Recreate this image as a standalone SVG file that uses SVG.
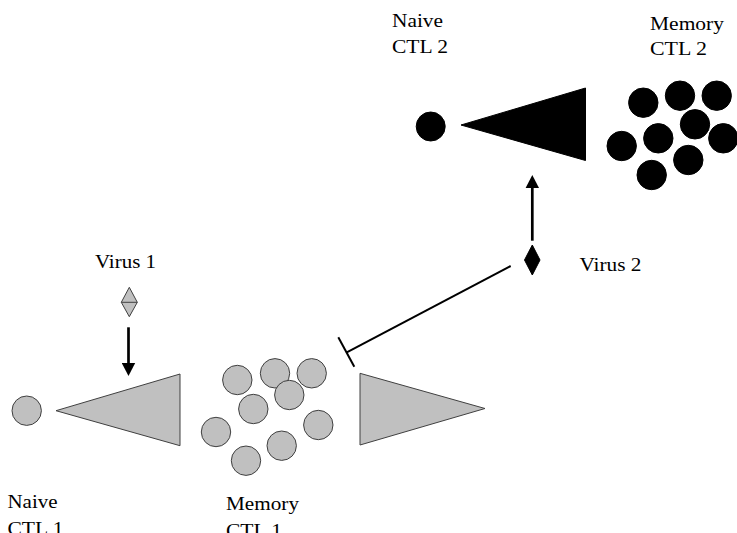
<svg xmlns="http://www.w3.org/2000/svg" width="737" height="533" viewBox="0 0 737 533">
<style>
text{font-family:"Liberation Serif","Times New Roman",serif;font-size:19px;fill:#000}
.g{fill:#c0c0c0;stroke:#404040;stroke-width:1}
.b{fill:#000;stroke:#000;stroke-width:1}
.ln{stroke:#000;stroke-width:2.7;fill:none}
</style>
<defs>
<marker id="ah" markerWidth="14" markerHeight="14" refX="1" refY="7" orient="auto" markerUnits="userSpaceOnUse"><path d="M0,0.3 L13,7 L0,13.7 z" fill="#000"/></marker>
</defs>
<rect width="737" height="533" fill="#fff"/>
<g id="naive-ctl2">
<circle class="b" cx="430.7" cy="126.5" r="14.5"/>
<text x="392" y="27" textLength="51" lengthAdjust="spacingAndGlyphs">Naive</text>
<text x="392" y="53" textLength="56" lengthAdjust="spacingAndGlyphs">CTL 2</text>
</g>
<g id="expansion-ctl2">
<polygon class="b" points="461,125 585.5,88 585.5,160.5"/>
</g>
<g id="memory-ctl2">
<circle class="b" cx="643.3" cy="102.7" r="14.7"/>
<circle class="b" cx="680" cy="95.7" r="14.7"/>
<circle class="b" cx="716.7" cy="95.7" r="14.7"/>
<circle class="b" cx="695" cy="124.3" r="14.7"/>
<circle class="b" cx="658.3" cy="138.3" r="14.7"/>
<circle class="b" cx="621.7" cy="146" r="14.7"/>
<circle class="b" cx="723.3" cy="138.3" r="14.7"/>
<circle class="b" cx="688.3" cy="160" r="14.7"/>
<circle class="b" cx="651.7" cy="175" r="14.7"/>
<text x="650" y="29.5" textLength="74" lengthAdjust="spacingAndGlyphs">Memory</text>
<text x="650" y="55" textLength="57" lengthAdjust="spacingAndGlyphs">CTL 2</text>
</g>
<g id="virus1">
<polygon class="g" points="129.3,287.3 137.3,302.3 129.3,316.7 121.3,302.3"/>
<line x1="121.3" y1="302.3" x2="137.3" y2="302.3" stroke="#404040" stroke-width="1"/>
<text x="95" y="268" textLength="61" lengthAdjust="spacingAndGlyphs">Virus 1</text>
</g>
<g id="virus2">
<polygon class="b" points="532.3,245 540,260 532.3,275 524.5,260"/>
<text x="579.5" y="271" textLength="62" lengthAdjust="spacingAndGlyphs">Virus 2</text>
</g>
<g id="naive-ctl1">
<circle class="g" cx="26.7" cy="410.7" r="14.7"/>
<text x="7.5" y="508" textLength="50" lengthAdjust="spacingAndGlyphs">Naive</text>
<text x="7.5" y="535" textLength="56" lengthAdjust="spacingAndGlyphs">CTL 1</text>
</g>
<g id="expansion-ctl1">
<polygon class="g" points="56,410.7 180,374 180,445.7"/>
</g>
<g id="memory-ctl1">
<circle class="g" cx="237.3" cy="380" r="14.7"/>
<circle class="g" cx="275" cy="373.3" r="14.7"/>
<circle class="g" cx="311.7" cy="373.3" r="14.7"/>
<circle class="g" cx="289.3" cy="395" r="14.7"/>
<circle class="g" cx="253.3" cy="409" r="14.7"/>
<circle class="g" cx="216" cy="432" r="14.7"/>
<circle class="g" cx="318.3" cy="425" r="14.7"/>
<circle class="g" cx="281.7" cy="445.7" r="14.7"/>
<circle class="g" cx="246" cy="460.7" r="14.7"/>
<text x="226" y="510" textLength="73" lengthAdjust="spacingAndGlyphs">Memory</text>
<text x="226" y="537" textLength="56" lengthAdjust="spacingAndGlyphs">CTL 1</text>
</g>
<g id="expansion-ctl1-blocked">
<polygon class="g" points="360,373.3 485,408.5 360,445"/>
</g>
<g id="connectors">
<line class="ln" x1="128.5" y1="327.3" x2="128.5" y2="364" marker-end="url(#ah)"/>
<line class="ln" x1="532.3" y1="240.7" x2="532.3" y2="187" marker-end="url(#ah)"/>
<line x1="510.7" y1="266" x2="346.3" y2="352.7" stroke="#000" stroke-width="2"/>
<line x1="338.3" y1="337.3" x2="354.3" y2="366.7" stroke="#000" stroke-width="2"/>
</g>
</svg>
